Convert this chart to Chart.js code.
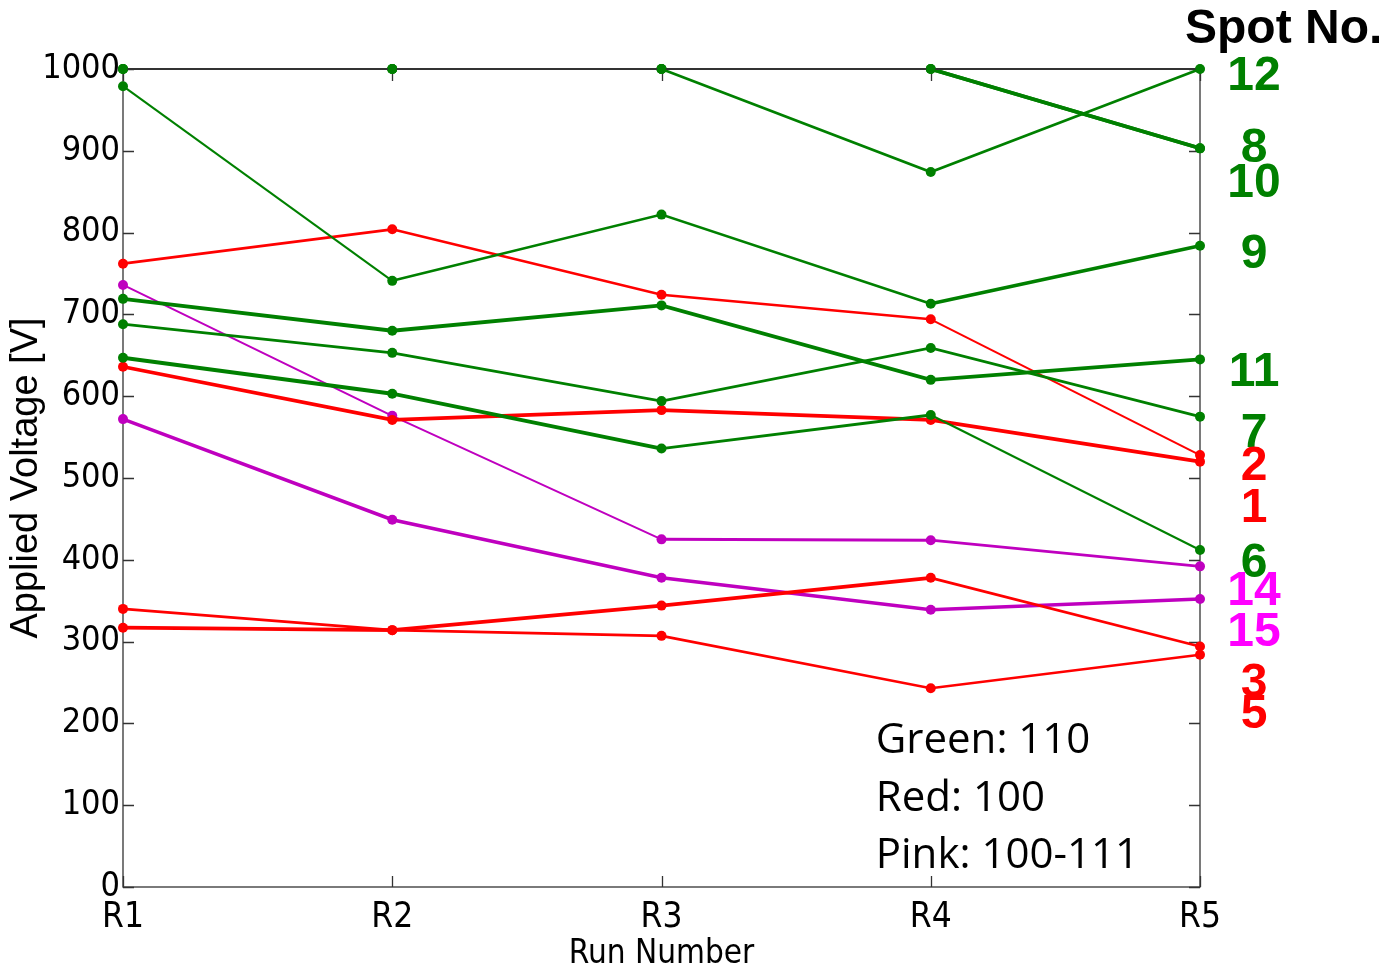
<!DOCTYPE html>
<html>
<head>
<meta charset="utf-8">
<script src="https://cdn.jsdelivr.net/npm/chart.js@4/dist/chart.umd.min.js"></script>
<style>
  html, body { margin: 0; padding: 0; background: #fff; }
  #wrap { width: 1389px; height: 971px; }
</style>
</head>
<body>
<div id="wrap"><canvas id="voltChart" width="1389" height="971"></canvas></div>
<script>
// Run numbers on the x axis
const runs = ["R1", "R2", "R3", "R4", "R5"];

// Applied voltage [V] per spot
const spot12 = [1000, 1000, 1000, 874, 1000];
const spot8 = [1000, 1000, 1000, 1000, 903];
const spot10 = [1000, 1000, 1000, 1000, 903];
const spot9 = [979, 741, 822, 713, 784];
const spot11 = [719, 680, 711, 620, 645];
const spot7 = [688, 653, 594, 659, 575];
const spot6 = [647, 603, 536, 577, 412];
const spot2 = [762, 804, 724, 694, 528];
const spot1 = [636, 571, 583, 571, 520];
const spot3 = [317, 314, 344, 378, 294];
const spot5 = [340, 314, 307, 243, 284];
const spot14 = [736, 576, 425, 424, 392];
const spot15 = [572, 449, 378, 339, 352];

// Right-hand spot labels and where they sit (in volts)
const spotNames = ["12", "8", "10", "9", "11", "7", "2", "1", "6", "14", "15", "3", "5"];
const spotLabelAt = [974, 886, 843, 757, 612, 538, 497, 446, 379, 345, 295, 232, 194];

const legendLines = ["Green: 110", "Red: 100", "Pink: 100-111"];

const GREEN = "#008000";
const RED = "#ff0000";
const PURPLE = "#bf00bf";
const MAGENTA = "#ff00ff";

// series setup: values, line colour, segment weights
// (segments lying on the 1000 V edge are kept thin so the box edge covers them)
const series = [
  { name: "12", data: spot12, color: GREEN, w: [1, 1, 2.6, 2.6] },
  { name: "8", data: spot8, color: GREEN, w: [1, 1, 1, 3.6] },
  { name: "10", data: spot10, color: GREEN, w: [1, 1, 1, 3.6] },
  { name: "9", data: spot9, color: GREEN, w: [2, 2.6, 2.6, 3.6] },
  { name: "11", data: spot11, color: GREEN, w: [3.8, 3.8, 3.8, 3.8] },
  { name: "7", data: spot7, color: GREEN, w: [2.8, 2.8, 2.8, 2.8] },
  { name: "6", data: spot6, color: GREEN, w: [3.8, 3.8, 2.8, 2] },
  { name: "2", data: spot2, color: RED, w: [2.8, 2.6, 2.6, 2] },
  { name: "1", data: spot1, color: RED, w: [3.8, 3.8, 3.8, 3.8] },
  { name: "3", data: spot3, color: RED, w: [3.8, 3.8, 3.8, 2.8] },
  { name: "5", data: spot5, color: RED, w: [2.8, 2.6, 2.6, 2.6] },
  { name: "14", data: spot14, color: PURPLE, w: [2, 2, 3, 2.6] },
  { name: "15", data: spot15, color: PURPLE, w: [3.6, 3.6, 3.6, 3.6] },
];

function labelColor(name) {
  const s = series.find((d) => d.name === name);
  if (s.color === PURPLE) return MAGENTA;
  return s.color;
}

// MATLAB-like box with inward tick marks
const boxPlugin = {
  id: "matlabBox",
  beforeDatasetsDraw(chart) {
    const { ctx, chartArea: a, scales } = chart;
    ctx.save();
    ctx.strokeStyle = "#333";
    ctx.lineWidth = 1.3;
    ctx.strokeRect(a.left, a.top, a.right - a.left, a.bottom - a.top);
    ctx.beginPath();
    scales.y.ticks.forEach((t) => {
      const y = Math.round(scales.y.getPixelForValue(t.value)) + 0.5;
      ctx.moveTo(a.left, y); ctx.lineTo(a.left + 11, y);
      ctx.moveTo(a.right, y); ctx.lineTo(a.right - 11, y);
    });
    runs.forEach((r, i) => {
      const x = Math.round(scales.x.getPixelForValue(i)) + 0.5;
      ctx.moveTo(x, a.top); ctx.lineTo(x, a.top + 12);
      ctx.moveTo(x, a.bottom); ctx.lineTo(x, a.bottom - 11);
    });
    ctx.stroke();
    ctx.restore();
  },
  afterDatasetsDraw(chart) {
    // top edge of the box sits over the capped 1000 V lines, dots stay on top
    const { ctx, chartArea: a, scales } = chart;
    ctx.save();
    ctx.strokeStyle = "#333";
    ctx.lineWidth = 1.8;
    ctx.beginPath();
    ctx.moveTo(a.left, a.top);
    ctx.lineTo(a.right, a.top);
    ctx.stroke();
    ctx.fillStyle = GREEN;
    runs.forEach((r, i) => {
      ctx.beginPath();
      ctx.arc(scales.x.getPixelForValue(i), a.top, 4.5, 0, Math.PI * 2);
      ctx.fill();
    });
    ctx.restore();
  },
  afterDraw(chart) {
    const { ctx, chartArea: a, scales } = chart;
    ctx.save();
    // Spot No. header
    ctx.fillStyle = "#000";
    ctx.font = "bold 48px 'Liberation Sans', Arial, sans-serif";
    ctx.textAlign = "left";
    ctx.textBaseline = "alphabetic";
    ctx.fillText("Spot No.", a.right - 15, 43);
    // spot numbers
    ctx.textAlign = "center";
    spotNames.forEach((n, i) => {
      ctx.fillStyle = labelColor(n);
      ctx.fillText(n, a.right + 54, scales.y.getPixelForValue(spotLabelAt[i]));
    });
    // orientation note
    ctx.fillStyle = "#000";
    ctx.textAlign = "left";
    ctx.font = "42px 'Open Sans', sans-serif";
    const x0 = scales.x.getPixelForValue(3) - 55;
    [164, 93, 23].forEach((v, i) => {
      ctx.fillText(legendLines[i], x0, scales.y.getPixelForValue(v));
    });
    ctx.restore();
  },
};

const narrow = "'DejaVu Sans Condensed', 'Liberation Sans', sans-serif";

new Chart(document.getElementById("voltChart"), {
  type: "line",
  data: {
    labels: runs,
    datasets: series.map((s) => ({
      label: "Spot " + s.name,
      data: s.data,
      borderColor: s.color,
      backgroundColor: s.color,
      borderWidth: 2,
      pointRadius: 5,
      pointBorderWidth: 0,
      pointBackgroundColor: s.color,
      tension: 0,
      clip: false,
      segment: { borderWidth: (c) => s.w[c.p0DataIndex] },
    })),
  },
  options: {
    responsive: false,
    animation: false,
    layout: { padding: { top: 69, right: 189, left: 0, bottom: 0 } },
    plugins: { legend: { display: false }, tooltip: { enabled: false } },
    scales: {
      x: {
        offset: false,
        grid: { display: false, drawTicks: false },
        border: { display: false },
        ticks: { color: "#000", font: { family: narrow, size: 35 }, padding: 10, maxRotation: 0 },
        title: {
          display: true,
          text: "Run Number",
          color: "#000",
          font: { family: narrow, size: 33, lineHeight: 1 },
          padding: 0,
        },
        afterFit: (scale) => { scale.height = 84; },
      },
      y: {
        min: 0,
        max: 1000,
        grid: { display: false, drawTicks: false },
        border: { display: false },
        ticks: {
          stepSize: 100,
          color: "#000",
          font: { family: narrow, size: 34 },
          padding: 3,
          callback: (v) => String(v),
        },
        title: {
          display: true,
          text: "Applied Voltage [V]",
          color: "#000",
          font: { family: "'Liberation Sans', Arial, sans-serif", size: 38, lineHeight: 1 },
          padding: { top: 8, bottom: 0 },
        },
        afterFit: (scale) => { scale.width = 123; },
      },
    },
  },
  plugins: [boxPlugin],
});
</script>
</body>
</html>
